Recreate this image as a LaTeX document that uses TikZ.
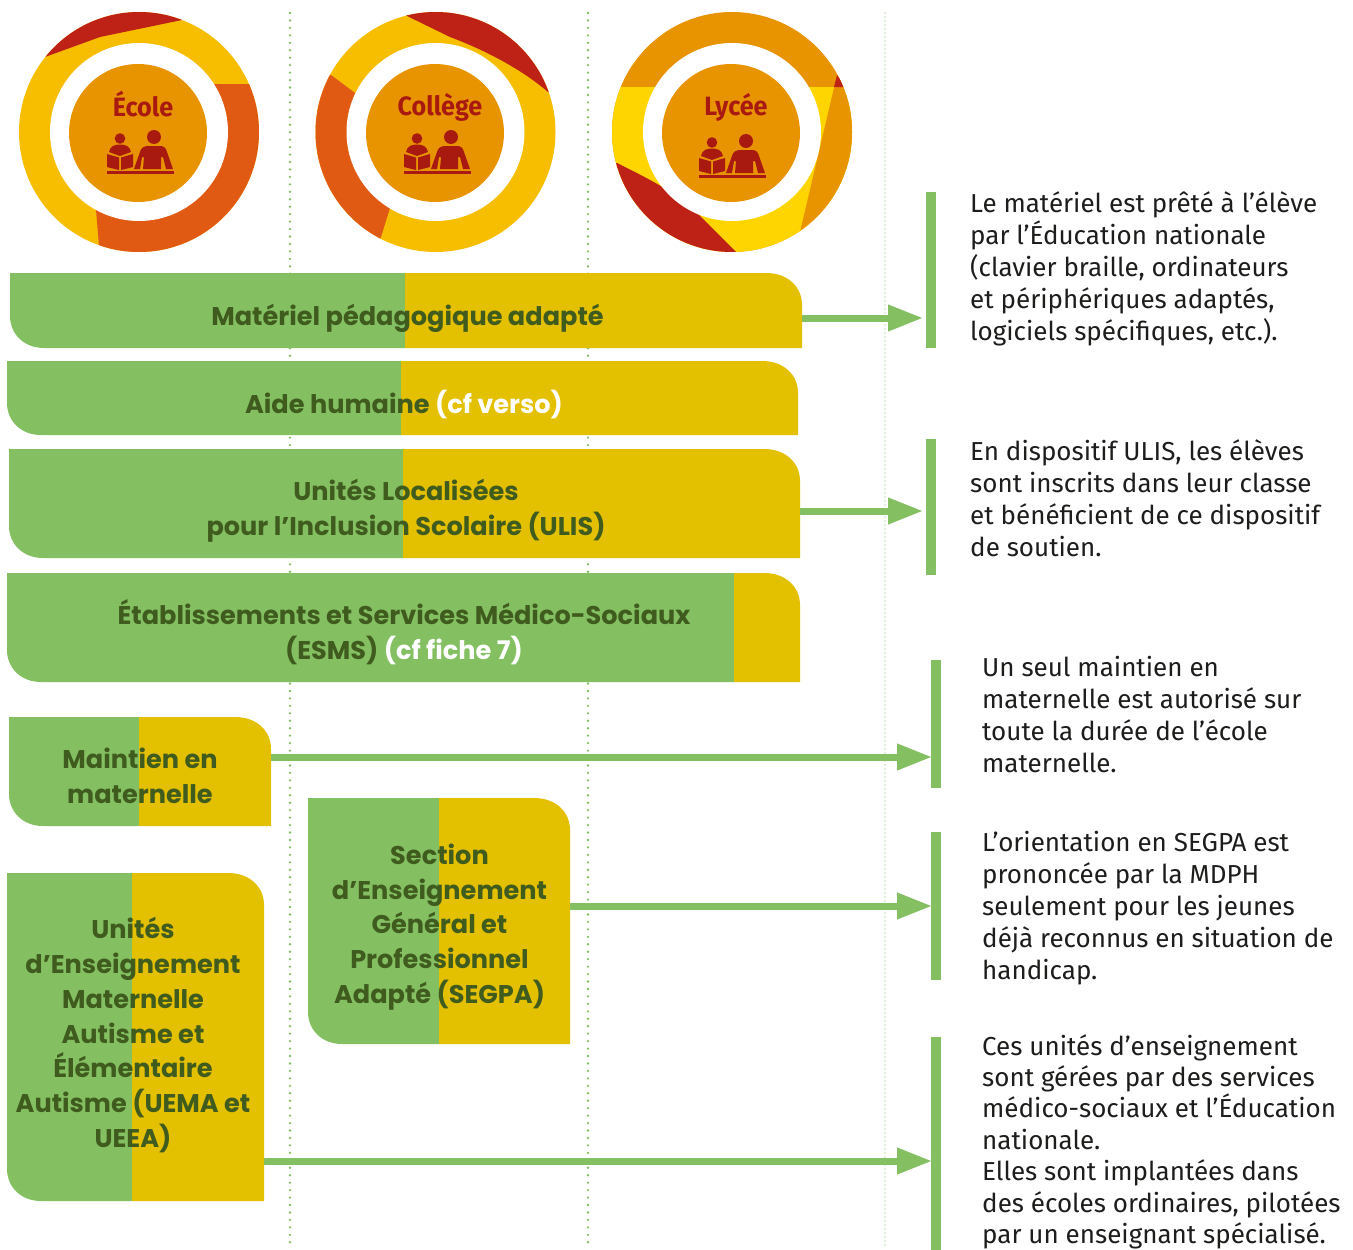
\documentclass[tikz,border=0pt]{standalone}
\usepackage{fontspec}
\usetikzlibrary{arrows.meta}
\setmainfont{Fira Sans}
\newfontfamily\boxfont{Poppins}
\newfontfamily\titlefont[FakeStretch=0.95]{Fira Sans}
\definecolor{grn}{HTML}{84C062}
\definecolor{ylw}{HTML}{E3C000}
\definecolor{boxtxt}{HTML}{3F5C1E}
\definecolor{ringy}{HTML}{F7BE00}
\definecolor{ringo}{HTML}{E05A14}
\definecolor{ringr}{HTML}{BE2116}
\definecolor{ringm}{HTML}{E89300}
\definecolor{ringl}{HTML}{FFD500}
\definecolor{iconr}{HTML}{A81A10}
\definecolor{bodytxt}{HTML}{1D1D1B}
\tikzset{
  dotline/.style={grn,line width=2.6pt,line cap=round,dash pattern=on 0pt off 7.45pt},
  boxtext/.style={inner sep=0pt,align=center,text=boxtxt,font=\boxfont\bfseries\fontsize{25.6}{34.7}\selectfont},
  bodytext/.style={inner sep=0pt,align=left,anchor=north west,text=bodytxt,font=\fontsize{26}{32}\selectfont},
  arrowline/.style={draw=grn,line width=7pt,-{Triangle[length=35pt,width=25pt,fill=grn]}},
  barfill/.style={fill=grn,draw=none,inner sep=0pt},
  title/.style={inner sep=0pt,text=iconr,font=\titlefont\bfseries\fontsize{26.5}{30}\selectfont},
}
% green/yellow box: x1,y1,x2,y2,split
\newcommand{\duobox}[5]{%
  \fill[grn] (#1,#2) -- (#5,#2) -- (#5,#4) -- (#1+34,#4) .. controls (#1+14,#4) and (#1,#4-14) .. (#1,#4-32) -- cycle;
  \ifdim #5pt<\numexpr#3-34\relax pt
  \fill[ylw] (#5,#2) -- (#3-36,#2) .. controls (#3-14,#2) and (#3,#2+14) .. (#3,#2+32) -- (#3,#4) -- (#5,#4) -- cycle;
  \else
  \fill[ylw] (#5,#2) .. controls (#3-18,#2) and (#3,#2+14) .. (#3,#2+32) -- (#3,#4) -- (#5,#4) -- cycle;
  \fi
}
% readers icon
\newcommand{\readers}[2]{%
  \begin{scope}[shift={(#1,#2)}]
  \fill[iconr] (120,138.5) circle (5.3);
  \fill[iconr] (109,152) .. controls (110,146) and (115,144.5) .. (120,144.5) .. controls (125,144.5) and (130,146) .. (131,152) -- (120,156) -- cycle;
  \fill[iconr] (107,154) -- (119,157.5) -- (119,170) -- (107,167) -- cycle;
  \fill[iconr] (121,157.5) -- (133,154) -- (133,167) -- (121,170) -- cycle;
  \fill[iconr] (154,137) circle (7);
  \fill[iconr] (134,169) -- (140,152) .. controls (141,148) and (144,146) .. (148,146) -- (160,146) .. controls (164,146) and (166,148) .. (167,152) -- (173,169) -- (166,169) -- (163,157) -- (161,157) -- (161,169) -- (143,169) -- (144,157) -- (142,157) -- (140,169) -- cycle;
  \fill[iconr] (107,171) rectangle (174,174);
  \end{scope}
}
\begin{document}
\begin{tikzpicture}[x=1pt,y=-1pt]
\useasboundingbox (0,0) rectangle (1353,1250);
\clip (0,0) rectangle (1353,1250);
\fill[white] (0,0) rectangle (1353,1250);
% dotted column lines
\coordinate (d1a) at (290,13); \coordinate (d1b) at (290,1248);
\coordinate (d2a) at (588,13); \coordinate (d2b) at (588,1248);
\coordinate (d3a) at (885,13); \coordinate (d3b) at (885,1248);
\draw[dotline] (d1a) -- (d1b);
\draw[dotline] (d2a) -- (d2b);
\draw[dotline,grn!50,line width=1.6pt,dash pattern=on 0pt off 4pt] (d3a) -- (d3b);
% ring 1
\begin{scope}
  \clip (139,132) circle (120);
  \fill[ringy] (0,0) rectangle (270,260);
  \fill[ringr] (45,57) -- (100,37) -- (182,20) -- (182,0) -- (30,0) -- cycle;
  \fill[ringo] (213,84) -- (248,84) -- (265,84) -- (265,260) -- (100,260) -- (99,246) -- (96,210) -- cycle;
\end{scope}
\fill[white] (139,132) circle (89);
\fill[ringm] (138,133) circle (69);
\node[title] (t1) at (143,104.5) {École};
\readers{0}{0}
% ring 2
\begin{scope}
  \clip (435.5,132) circle (120);
  \fill[ringy] (300,0) rectangle (570,260);
  \fill[ringr] (405,15) -- (450,37) .. controls (490,52) and (525,72) .. (548,92) -- (570,92) -- (570,0) -- (405,0) -- cycle;
  \fill[ringo] (331,75) -- (355,93) -- (390,208) -- (381,237) -- (370,262) -- (300,262) -- (300,75) -- cycle;
\end{scope}
\fill[white] (435.5,132) circle (89);
\fill[ringm] (435,133) circle (69);
\node[title] (t2) at (440,107) {Collège};
\readers{297}{0}
% ring 3
\begin{scope}
  \clip (732,132) circle (120);
  \fill[ringm] (600,0) rectangle (860,260);
  \fill[ringl] (600,87) -- (860,87) -- (860,260) -- (600,260) -- cycle;
  \fill[ringm] (837,75) -- (800,232) -- (800,260) -- (860,260) -- (860,75) -- cycle;
  \fill[ringr] (837,75) -- (834,87) -- (845,87) -- cycle;
  \fill[ringr] (617,163) .. controls (635,172) and (655,182) .. (667,190) -- (697,213) -- (737,253) -- (600,260) -- (600,163) -- cycle;
\end{scope}
\fill[white] (732,132) circle (89);
\fill[ringm] (731,133) circle (69);
\node[title] (t3) at (736,107) {Lycée};
\readers{592}{4}
% boxes
\duobox{10}{273}{802}{348}{405}
\duobox{7}{361}{798}{435}{401}
\duobox{9}{449}{800}{558}{403}
\duobox{7}{573}{800}{682}{734}
\duobox{9}{717}{271}{826}{139}
\duobox{308}{798}{570}{1044}{439}
\duobox{7}{873}{264}{1201}{132}
\node[boxtext] (b1) at (407.5,318.5) {Matériel pédagogique adapté};
\node[boxtext] (b2) at (404,404) {Aide humaine \textcolor{white}{(cf verso)}};
\node[boxtext] (b3) at (406,511) {Unités Localisées\\pour l’Inclusion Scolaire (ULIS)};
\node[boxtext] (b4) at (404,632) {Établissements et Services Médico-Sociaux\\(ESMS) \textcolor{white}{(cf fiche 7)}};
\node[boxtext] (b5) at (140,776) {Maintien en\\maternelle};
\node[boxtext] (b6) at (439.5,927) {Section\\d’Enseignement\\Général et\\Professionnel\\Adapté (SEGPA)};
\node[boxtext] (b7) at (133,1035) {Unités\\d’Enseignement\\Maternelle\\Autisme et\\Élémentaire\\Autisme (UEMA et\\UEEA)};
% bars
\node[barfill,minimum width=10pt,minimum height=156pt] (r1) at (931,270) {};
\node[barfill,minimum width=10pt,minimum height=136pt] (r2) at (931,507) {};
\node[barfill,minimum width=10pt,minimum height=128pt] (r3) at (936,724) {};
\node[barfill,minimum width=10pt,minimum height=148pt] (r4) at (936,906) {};
\node[barfill,minimum width=10pt,minimum height=213pt] (r5) at (936,1143.5) {};
% arrows
\coordinate (a1s) at (802,318); \coordinate (a1e) at (923,318);
\coordinate (a2s) at (800,511); \coordinate (a2e) at (923,511);
\coordinate (a3s) at (271,757); \coordinate (a3e) at (932,757);
\coordinate (a4s) at (570,906); \coordinate (a4e) at (932,906);
\coordinate (a5s) at (264,1161); \coordinate (a5e) at (932,1161);
\draw[arrowline] (a1s) -- (a1e);
\draw[arrowline] (a2s) -- (a2e);
\draw[arrowline] (a3s) -- (a3e);
\draw[arrowline] (a4s) -- (a4e);
\draw[arrowline] (a5s) -- (a5e);
% body text
\node[bodytext] (x1) at (970,191) {Le matériel est prêté à l’élève\\par l’Éducation nationale\\(clavier braille, ordinateurs\\et périphériques adaptés,\\logiciels spécifiques, etc.).};
\node[bodytext] (x2) at (970,439) {En dispositif ULIS, les élèves\\sont inscrits dans leur classe\\et bénéficient de ce dispositif\\de soutien.};
\node[bodytext] (x3) at (982,656) {Un seul maintien en\\maternelle est autorisé sur\\toute la durée de l’école\\maternelle.};
\node[bodytext] (x4) at (982,831) {L’orientation en SEGPA est\\prononcée par la MDPH\\seulement pour les jeunes\\déjà reconnus en situation de\\handicap.};
\node[bodytext,font=\fontsize{26}{31.4}\selectfont] (x5) at (982,1034) {Ces unités d’enseignement\\sont gérées par des services\\médico-sociaux et l’Éducation\\nationale.\\Elles sont implantées dans\\des écoles ordinaires, pilotées\\par un enseignant spécialisé.};
\end{tikzpicture}
\end{document}
